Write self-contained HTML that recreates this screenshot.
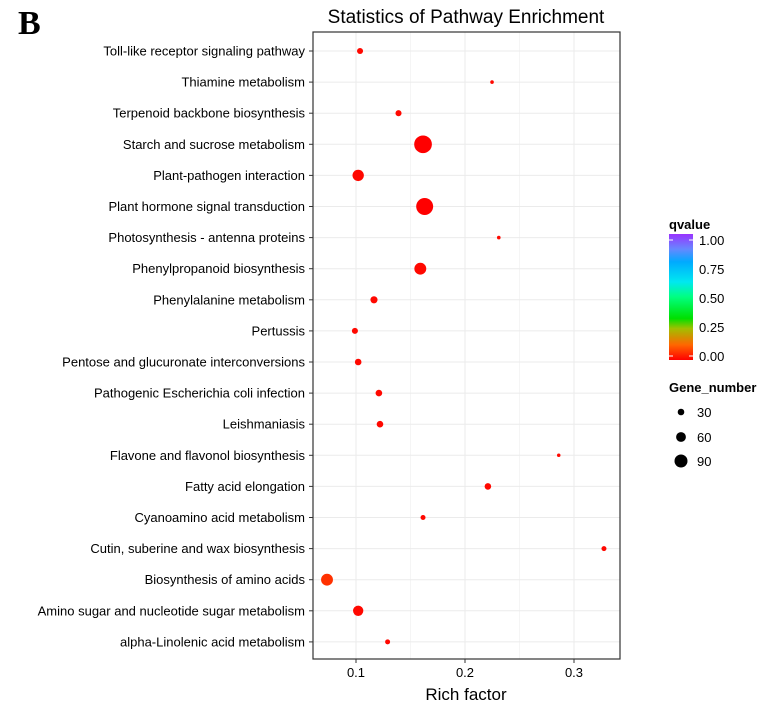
<!DOCTYPE html>
<html><head><meta charset="utf-8"><style>
body{margin:0;background:#fff;}
svg text{font-family:"Liberation Sans",sans-serif;}
</style></head><body>
<svg id="chart" width="767" height="706" xmlns="http://www.w3.org/2000/svg">
<defs>
<linearGradient id="qgrad" x1="0" y1="1" x2="0" y2="0">
<stop offset="0" stop-color="#ff0000"/><stop offset="0.12" stop-color="#ff6600"/>
<stop offset="0.25" stop-color="#a0c000"/><stop offset="0.33" stop-color="#00e000"/>
<stop offset="0.5" stop-color="#00ff80"/><stop offset="0.62" stop-color="#00e8f0"/>
<stop offset="0.78" stop-color="#00aaff"/><stop offset="0.88" stop-color="#6688ff"/>
<stop offset="1" stop-color="#9933ff"/></linearGradient>
</defs>
<text x="18" y="34" style="font-family:'Liberation Serif',serif;font-weight:bold;font-size:34px">B</text>
<text x="466" y="23" text-anchor="middle" font-size="19">Statistics of Pathway Enrichment</text>
<g id="grid"></g><g id="pts"></g><g id="axes"></g>
<text x="466" y="700" text-anchor="middle" font-size="17">Rich factor</text>
<g>
<text x="669" y="229" font-size="13" font-weight="bold">qvalue</text>
<rect x="669" y="234" width="24" height="126" fill="url(#qgrad)"/>
<g font-size="13"><text x="699" y="245">1.00</text><text x="699" y="274">0.75</text><text x="699" y="303">0.50</text><text x="699" y="332">0.25</text><text x="699" y="361">0.00</text></g>
<g stroke="#fff" stroke-width="1"><line x1="669" y1="240" x2="673" y2="240"/><line x1="689" y1="240" x2="693" y2="240"/><line x1="669" y1="356" x2="673" y2="356"/><line x1="689" y1="356" x2="693" y2="356"/></g>
</g>
<g>
<text x="669" y="392" font-size="13" font-weight="bold">Gene_number</text>
<circle cx="681" cy="412" r="3.3" fill="#000"/><text x="697" y="417" font-size="13">30</text>
<circle cx="681" cy="437" r="4.9" fill="#000"/><text x="697" y="442" font-size="13">60</text>
<circle cx="681" cy="461" r="6.5" fill="#000"/><text x="697" y="466" font-size="13">90</text>
</g>
</svg>
<script>
const pathways=["Toll-like receptor signaling pathway","Thiamine metabolism","Terpenoid backbone biosynthesis","Starch and sucrose metabolism","Plant-pathogen interaction","Plant hormone signal transduction","Photosynthesis - antenna proteins","Phenylpropanoid biosynthesis","Phenylalanine metabolism","Pertussis","Pentose and glucuronate interconversions","Pathogenic Escherichia coli infection","Leishmaniasis","Flavone and flavonol biosynthesis","Fatty acid elongation","Cyanoamino acid metabolism","Cutin, suberine and wax biosynthesis","Biosynthesis of amino acids","Amino sugar and nucleotide sugar metabolism","alpha-Linolenic acid metabolism"];
const richFactor=[0.1037,0.2248,0.139,0.1615,0.102,0.163,0.231,0.159,0.1165,0.099,0.102,0.121,0.122,0.286,0.221,0.1615,0.3275,0.0734,0.102,0.129];
const geneNumber=[25,2,25,135,75,128,2,80,35,25,30,30,30,1,30,15,15,80,65,15];
const qvalue=[0.01,0.01,0.01,0,0.01,0,0.01,0.01,0.01,0.01,0.01,0.01,0.01,0.01,0.01,0.01,0.01,0.06,0.01,0.01];
const xTicks=[0.1,0.2,0.3];
const NS="http://www.w3.org/2000/svg";
const L=313,R=620,T=32,B=659;
const xS=v=>356+(v-0.1)*1090;
const yS=i=>51+i*31.1;
const rS=n=>1.7+0.053*n;
function qCol(q){const r=255,g=Math.round(Math.min(255,q*8*255*0.4));return `rgb(${r},${g},0)`;}
function mk(t,a,p){const e=document.createElementNS(NS,t);for(const k in a)e.setAttribute(k,a[k]);p.appendChild(e);return e;}
const grid=document.getElementById('grid'),pts=document.getElementById('pts'),axes=document.getElementById('axes');
mk('rect',{x:L,y:T,width:R-L,height:B-T,fill:'#fff'},grid);
for(let v=0.05;v<0.36;v+=0.05){const x=xS(v);if(x>L&&x<R){const g=mk('line',{x1:x,x2:x,y1:T,y2:B,stroke:'#ebebeb','stroke-width':Math.abs(v*10-Math.round(v*10))<1e-6?1:0.5},grid);

}}
pathways.forEach((p,i)=>{const y=yS(i);
const gl=mk('line',{x1:L,x2:R,y1:y,y2:y,stroke:'#ebebeb','stroke-width':1},grid);


const t=mk('text',{x:L-8,y:y+4.5,'text-anchor':'end','font-size':13},axes);t.textContent=p;


mk('line',{x1:L-4,x2:L,y1:y,y2:y,stroke:'#333'},axes);
const c=mk('circle',{cx:xS(richFactor[i]),cy:y,r:rS(geneNumber[i]),fill:qCol(qvalue[i])},pts);

});
xTicks.forEach(v=>{const x=xS(v);mk('line',{x1:x,x2:x,y1:B,y2:B+4,stroke:'#333'},axes);
const t=mk('text',{x:x,y:B+18,'text-anchor':'middle','font-size':13},axes);t.textContent=v;

});
mk('rect',{x:L,y:T,width:R-L,height:B-T,fill:'none',stroke:'#333','stroke-width':1.2},axes);
</script>
</body></html>
